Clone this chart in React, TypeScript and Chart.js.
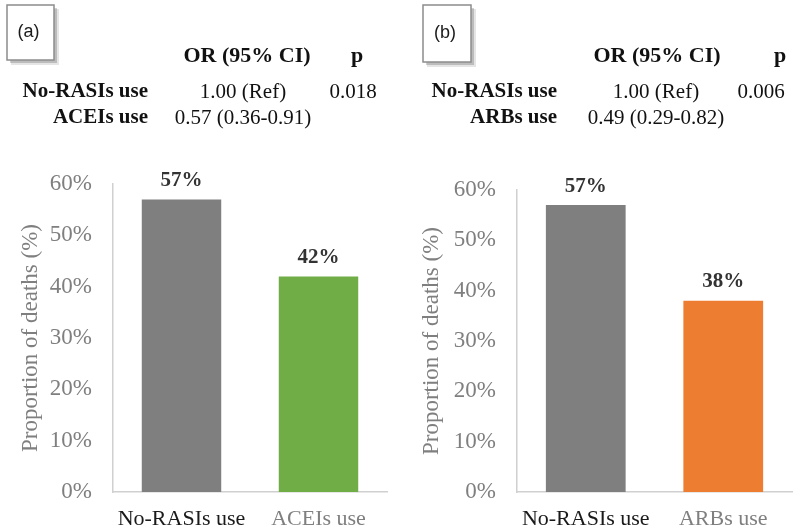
import React, { useEffect, useRef } from "react";
import { Chart, registerables } from "chart.js";

Chart.register(...registerables);

// ---------- data ----------
const categoriesA = ["No-RASIs use", "ACEIs use"];
const valuesA = [57, 42];
const categoriesB = ["No-RASIs use", "ARBs use"];
const valuesB = [57, 38];
const yTickMax = 60;
const yTickStep = 10;
const yTitle = "Proportion of deaths (%)";
const tableHeaderOR = "OR (95% CI)";
const tableHeaderP = "p";
const rowLabelsA = ["No-RASIs use", "ACEIs use"];
const orValuesA = ["1.00 (Ref)", "0.57 (0.36-0.91)"];
const pValuesA = ["0.018", ""];
const rowLabelsB = ["No-RASIs use", "ARBs use"];
const orValuesB = ["1.00 (Ref)", "0.49 (0.29-0.82)"];
const pValuesB = ["0.006", ""];
const panelTags = ["(a)", "(b)"];

const SERIF = "'Liberation Serif', 'Times New Roman', serif";
const SANS = "'Liberation Sans', Arial, sans-serif";

type PanelProps = {
  categories: string[];
  values: number[];
  colors: string[];
  tag: string;
  rowLabels: string[];
  orValues: string[];
  pValues: string[];
  lay: {
    padLeft: number;
    padRight: number;
    top: number;
    axisLeft: number;
    box: [number, number, number, number];
    labelRight: number;
    orHeadX: number;
    pHeadX: number;
    orX: number;
    pX: number;
  };
};

function Panel(props: PanelProps) {
  const ref = useRef<HTMLCanvasElement | null>(null);
  useEffect(() => {
    const { lay } = props;
    const decorPlugin = {
      id: "decor",
      afterDraw(chart: any) {
        const ctx = chart.ctx;
        ctx.save();
        // tag box with shadow
        const [bx, by, bw, bh] = lay.box;
        ctx.fillStyle = "rgba(0,0,0,0.18)";
        ctx.fillRect(bx + 3, by + 3, bw, bh);
        ctx.fillStyle = "rgba(0,0,0,0.10)";
        ctx.fillRect(bx + 4, by + 4, bw + 1, bh + 1);
        ctx.fillStyle = "#ffffff";
        ctx.fillRect(bx, by, bw, bh);
        ctx.strokeStyle = "#8c8c8c";
        ctx.lineWidth = 1.5;
        ctx.strokeRect(bx, by, bw, bh);
        ctx.fillStyle = "#1a1a1a";
        ctx.font = "18px " + SANS;
        ctx.textAlign = "center";
        ctx.textBaseline = "middle";
        ctx.fillText(props.tag, bx + bw / 2 - 2, by + bh / 2);

        // table header
        ctx.fillStyle = "#111111";
        ctx.font = "bold 22px " + SERIF;
        ctx.fillText(tableHeaderOR, lay.orHeadX, 56);
        ctx.fillText(tableHeaderP, lay.pHeadX, 56);
        // rows
        const rowY = [92, 118];
        props.rowLabels.forEach((lbl, i) => {
          ctx.font = "bold 21px " + SERIF;
          ctx.textAlign = "right";
          ctx.fillText(lbl, lay.labelRight, rowY[i]);
          ctx.font = "21px " + SERIF;
          ctx.textAlign = "center";
          ctx.fillText(props.orValues[i], lay.orX, rowY[i]);
          if (props.pValues[i]) ctx.fillText(props.pValues[i], lay.pX, rowY[i]);
        });

        // data labels
        const meta = chart.getDatasetMeta(0);
        ctx.font = "bold 21px " + SERIF;
        ctx.fillStyle = "#333333";
        ctx.textAlign = "center";
        meta.data.forEach((bar: any, i: number) => {
          ctx.fillText(props.values[i] + "%", bar.x, bar.y - 19);
        });
        ctx.restore();
      },
    };

    const chart = new Chart(ref.current as HTMLCanvasElement, {
      type: "bar",
      data: {
        labels: props.categories,
        datasets: [
          {
            data: props.values,
            backgroundColor: props.colors,
            borderWidth: 0,
            categoryPercentage: 1,
            barPercentage: 0.58,
          },
        ],
      },
      options: {
        responsive: false,
        animation: false,
        devicePixelRatio: 1,
        layout: {
          padding: { left: lay.padLeft, right: lay.padRight, top: lay.top, bottom: 0 },
        },
        plugins: { legend: { display: false }, tooltip: { enabled: false } },
        scales: {
          x: {
            grid: { display: false, drawTicks: false },
            border: { display: true, color: "#d0d0d0", width: 1.5 },
            ticks: {
              padding: 14,
              font: { family: SERIF, size: 22 },
              color: (c: any) => (c.index === 0 ? "#1a1a1a" : "#7f7f7f"),
            },
            afterFit: (s: any) => {
              s.height = 40;
            },
          },
          y: {
            min: 0,
            max: yTickMax,
            grid: { display: false, drawTicks: false },
            border: { display: true, color: "#d0d0d0", width: 1.5 },
            ticks: {
              stepSize: yTickStep,
              padding: 21,
              font: { family: SERIF, size: 23 },
              color: "#7f7f7f",
              callback: (v: any) => v + "%",
            },
            title: {
              display: true,
              text: yTitle,
              color: "#7f7f7f",
              font: { family: SERIF, size: 23 },
              padding: { top: 4, bottom: 4 },
            },
            afterFit: (s: any) => {
              s.width = lay.axisLeft - lay.padLeft;
            },
          },
        },
      },
      plugins: [decorPlugin],
    });
    return () => chart.destroy();
  }, []);
  return <canvas ref={ref} width={400} height={532} style={{ display: "block" }} />;
}

export default function App() {
  return (
    <div
      style={{
        position: "absolute",
        left: 0,
        top: 0,
        width: 800,
        height: 532,
        background: "#ffffff",
        display: "flex",
      }}
    >
      <Panel
        categories={categoriesA}
        values={valuesA}
        colors={["#7f7f7f", "#70ad47"]}
        tag={panelTags[0]}
        rowLabels={rowLabelsA}
        orValues={orValuesA}
        pValues={pValuesA}
        lay={{
          padLeft: 13,
          padRight: 13,
          top: 184,
          axisLeft: 113,
          box: [7, 5, 47, 55],
          labelRight: 148,
          orHeadX: 247,
          pHeadX: 357,
          orX: 243,
          pX: 353,
        }}
      />
      <Panel
        categories={categoriesB}
        values={valuesB}
        colors={["#7f7f7f", "#ed7d31"]}
        tag={panelTags[1]}
        rowLabels={rowLabelsB}
        orValues={orValuesB}
        pValues={pValuesB}
        lay={{
          padLeft: 14,
          padRight: 8,
          top: 190,
          axisLeft: 117,
          box: [23, 5, 48, 57],
          labelRight: 157,
          orHeadX: 257,
          pHeadX: 380,
          orX: 256,
          pX: 361,
        }}
      />
    </div>
  );
}
